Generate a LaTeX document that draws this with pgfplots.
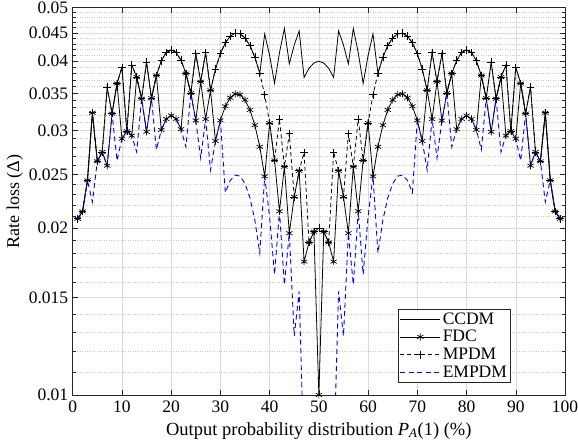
\documentclass[border=0pt]{standalone}
\usepackage{fontspec}
\setmainfont{Liberation Serif}
\usepackage{pgfplots}
\usepackage{pgfplotstable}
\pgfplotsset{compat=1.18}
\pgfplotstableread{
k c f m e
1 0.020793 0.020793 0.020793 0.020793
2 0.021440 0.021440 0.021440 0.021440
3 0.024392 0.024392 0.024392 0.024392
4 0.032292 0.032292 0.032292 0.022292
5 0.026396 0.026396 0.026396 0.026396
6 0.027445 0.027445 0.027445 0.027445
7 0.035923 0.025923 0.035923 0.025923
8 0.032179 0.032179 0.032179 0.032179
9 0.036469 0.036469 0.036469 0.026469
10 0.038995 0.028995 0.038995 0.028995
11 0.029916 0.029916 0.029916 0.029916
12 0.039370 0.029370 0.039370 0.029370
13 0.037438 0.037438 0.037438 0.027438
14 0.034238 0.034238 0.034238 0.034238
15 0.039840 0.029840 0.039840 0.029840
16 0.034310 0.034310 0.034310 0.034310
17 0.037705 0.037705 0.037705 0.027705
18 0.040077 0.030077 0.040077 0.030077
19 0.041471 0.031471 0.041471 0.031471
20 0.041928 0.031928 0.041928 0.031928
21 0.041483 0.031483 0.041483 0.031483
22 0.040167 0.030167 0.040167 0.030167
23 0.038011 0.038011 0.038011 0.028011
24 0.035040 0.035040 0.035040 0.035040
25 0.041278 0.031278 0.041278 0.031278
26 0.036746 0.036746 0.036746 0.026746
27 0.041464 0.031464 0.041464 0.031464
28 0.035451 0.035451 0.035451 0.025451
29 0.038721 0.028721 0.038721 0.028721
30 0.041291 0.031291 0.041291 0.031291
31 0.043174 0.033174 0.043174 0.023174
32 0.044381 0.034381 0.044381 0.024381
33 0.044926 0.034926 0.044926 0.024926
34 0.044819 0.034819 0.044819 0.024819
35 0.044068 0.034068 0.044068 0.024068
36 0.042683 0.032683 0.042683 0.022683
37 0.040672 0.030672 0.040672 0.020672
38 0.038042 0.028042 0.038042 0.018042
39 0.044800 0.024800 0.034800 0.024800
40 0.040950 0.030950 0.030950 0.020950
41 0.036500 0.026500 0.026500 0.016500
42 0.041454 0.021454 0.031454 0.021454
43 0.045815 0.025815 0.025815 0.015815
44 0.039587 0.019587 0.029587 0.019587
45 0.042774 0.022774 0.022774 0.012774
46 0.045378 0.025378 0.025378 0.015378
47 0.037402 0.017402 0.027402 0.007402
48 0.038845 0.018845 0.018845 0.008845
49 0.039711 0.019711 0.019711 0.009711
50 0.040000 0.010000 0.020000 0.010000
51 0.039711 0.019711 0.019711 0.009711
52 0.038845 0.018845 0.018845 0.008845
53 0.037402 0.017402 0.027402 0.007402
54 0.045378 0.025378 0.025378 0.015378
55 0.042774 0.022774 0.022774 0.012774
56 0.039587 0.019587 0.029587 0.019587
57 0.045815 0.025815 0.025815 0.015815
58 0.041454 0.021454 0.031454 0.021454
59 0.036500 0.026500 0.026500 0.016500
60 0.040950 0.030950 0.030950 0.020950
61 0.044800 0.024800 0.034800 0.024800
62 0.038042 0.028042 0.038042 0.018042
63 0.040672 0.030672 0.040672 0.020672
64 0.042683 0.032683 0.042683 0.022683
65 0.044068 0.034068 0.044068 0.024068
66 0.044819 0.034819 0.044819 0.024819
67 0.044926 0.034926 0.044926 0.024926
68 0.044381 0.034381 0.044381 0.024381
69 0.043174 0.033174 0.043174 0.023174
70 0.041291 0.031291 0.041291 0.031291
71 0.038721 0.028721 0.038721 0.028721
72 0.035451 0.035451 0.035451 0.025451
73 0.041464 0.031464 0.041464 0.031464
74 0.036746 0.036746 0.036746 0.026746
75 0.041278 0.031278 0.041278 0.031278
76 0.035040 0.035040 0.035040 0.035040
77 0.038011 0.038011 0.038011 0.028011
78 0.040167 0.030167 0.040167 0.030167
79 0.041483 0.031483 0.041483 0.031483
80 0.041928 0.031928 0.041928 0.031928
81 0.041471 0.031471 0.041471 0.031471
82 0.040077 0.030077 0.040077 0.030077
83 0.037705 0.037705 0.037705 0.027705
84 0.034310 0.034310 0.034310 0.034310
85 0.039840 0.029840 0.039840 0.029840
86 0.034238 0.034238 0.034238 0.034238
87 0.037438 0.037438 0.037438 0.027438
88 0.039370 0.029370 0.039370 0.029370
89 0.029916 0.029916 0.029916 0.029916
90 0.038995 0.028995 0.038995 0.028995
91 0.036469 0.036469 0.036469 0.026469
92 0.032179 0.032179 0.032179 0.032179
93 0.035923 0.025923 0.035923 0.025923
94 0.027445 0.027445 0.027445 0.027445
95 0.026396 0.026396 0.026396 0.026396
96 0.032292 0.032292 0.032292 0.022292
97 0.024392 0.024392 0.024392 0.024392
98 0.021440 0.021440 0.021440 0.021440
99 0.020793 0.020793 0.020793 0.020793
}\data

\begin{document}
\begin{tikzpicture}
\begin{axis}[
  name=ax,
  scale only axis,
  width=492.3pt, height=387.5pt,
  xmin=0, xmax=100,
  ymode=log, ymin=0.01, ymax=0.05,
  xtick={0,10,20,30,40,50,60,70,80,90,100},
  xticklabels={0,10,20,30,40,50,60,70,80,90,100},
  ytick={0.01,0.015,0.02,0.025,0.03,0.035,0.04,0.045,0.05},
  yticklabels={0.01,0.015,0.02,0.025,0.03,0.035,0.04,0.045,0.05},
  minor ytick={0.011,0.012,0.013,0.014,0.016,0.017,0.018,0.019,0.021,0.022,0.023,0.024,0.026,0.027,0.028,0.029,0.031,0.032,0.033,0.034,0.036,0.037,0.038,0.039,0.041,0.042,0.043,0.044,0.046,0.047,0.048,0.049},
  grid=both,
  major grid style={draw=black!14, line width=0.5pt},
  minor grid style={draw=black!22, dotted, line width=0.4pt},
  axis line style={draw=black!85, line width=0.5pt},
  tick style={draw=black!85, line width=0.5pt},
  major tick length=5pt, minor tick length=3pt,
  font=\fontsize{17.5}{20}\selectfont,
  xticklabel style={yshift=-2pt},
  yticklabel style={xshift=-1pt},
  xlabel={Output probability distribution \textit{P}\textsubscript{\textit{A}}(1) (\%)},
  ylabel={Rate loss (Δ)},
  xlabel style={yshift=-3pt, font=\fontsize{18.5}{21}\selectfont},
  ylabel style={yshift=-1pt, font=\fontsize{18}{21}\selectfont},
  legend style={at={(0.8897,0.0317)}, anchor=south east, draw=black!85, fill=white,
    font=\fontsize{17.5}{20}\selectfont, inner sep=1.5pt, row sep=0.8pt, line width=0.5pt},
  legend cell align=left,
  legend image code/.code={\draw[mark repeat=2,mark phase=2,#1] plot coordinates {(0pt,0pt) (20pt,0pt) (40pt,0pt)};},
]
\addplot[black, line width=0.8pt, mark=none] table[x=k, y=c] {\data};
\addlegendentry{CCDM}
\addplot[black, line width=0.8pt, mark=asterisk, mark size=3.6pt, mark options={line width=0.7pt}] table[x=k, y=f] {\data};
\addlegendentry{FDC}
\addplot[black, line width=0.8pt, dash pattern=on 4pt off 3pt, mark=+, mark size=3.8pt, mark options={solid, line width=0.7pt}] table[x=k, y=m] {\data};
\addlegendentry{MPDM}
\addplot[blue, line width=0.9pt, dash pattern=on 5pt off 3.5pt, mark=none] table[x=k, y=e] {\data};
\addlegendentry{EMPDM}
\end{axis}
\pgfresetboundingbox
\path ([xshift=-72.7pt,yshift=-53pt]ax.south west) rectangle ([xshift=13pt,yshift=7.5pt]ax.north east);
\end{tikzpicture}
\end{document}
